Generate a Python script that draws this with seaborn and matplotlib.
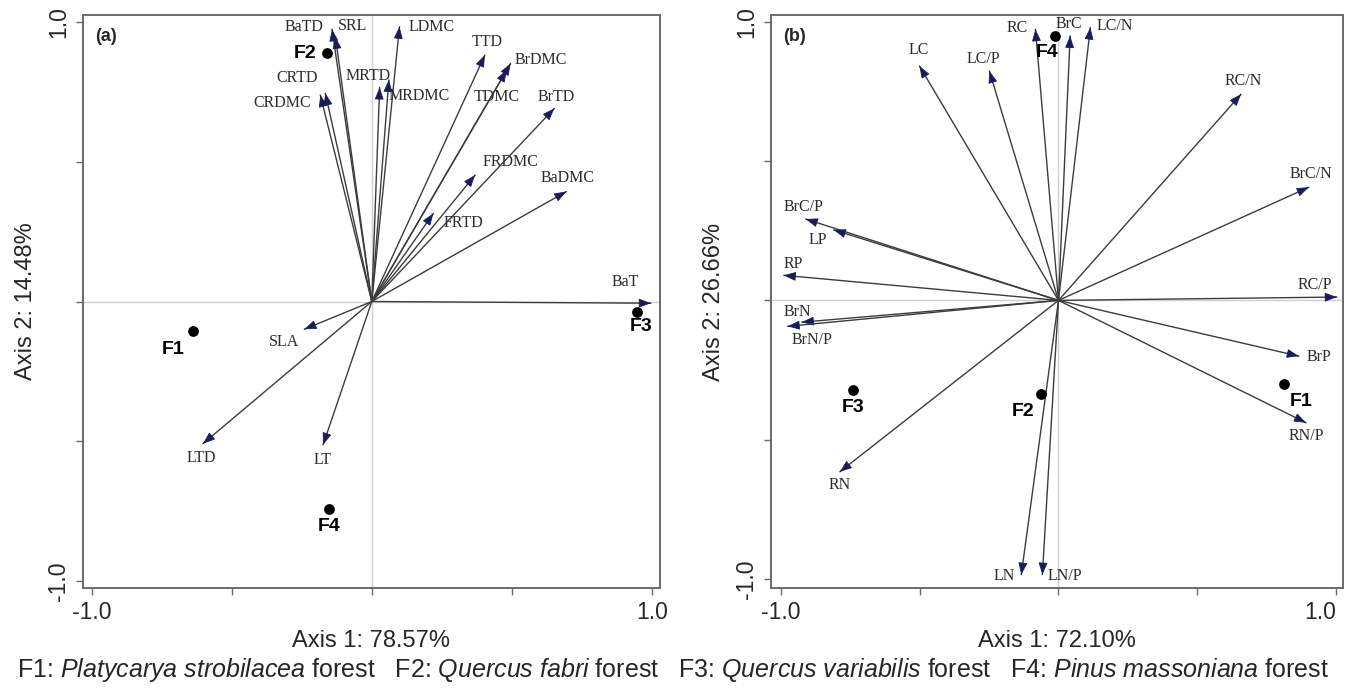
import numpy as np
import pandas as pd
import seaborn as sns
import matplotlib.pyplot as plt

# ---- panel (a): plant traits vs. axes 1/2 ----
traits_a = ['BaTD', 'SRL', 'LDMC', 'TTD', 'BrDMC', 'TDMC', 'BrTD', 'MRTD', 'MRDMC',
            'CRTD', 'CRDMC', 'FRDMC', 'BaDMC', 'FRTD', 'BaT', 'SLA', 'LTD', 'LT']
axis1_a = [-0.142, -0.130, 0.099, 0.404, 0.496, 0.482, 0.652, 0.061, 0.028,
           -0.166, -0.184, 0.369, 0.695, 0.220, 0.997, -0.241, -0.603, -0.174]
axis2_a = [0.973, 0.946, 0.982, 0.881, 0.851, 0.827, 0.690, 0.792, 0.765,
           0.744, 0.738, 0.452, 0.393, 0.315, -0.006, -0.099, -0.508, -0.512]
sites = ['F1', 'F2', 'F3', 'F4']
site1_a = [-0.638, -0.160, 0.948, -0.153]
site2_a = [-0.107, 0.887, -0.039, -0.740]

# ---- panel (b): stoichiometry vs. axes 1/2 ----
traits_b = ['RC', 'BrC', 'LC/N', 'LC', 'LC/P', 'RC/N', 'BrC/N', 'BrC/P', 'LP', 'RP',
            'RC/P', 'BrN', 'BrN/P', 'BrP', 'RN/P', 'RN', 'LN', 'LN/P']
axis1_b = [-0.083, 0.042, 0.115, -0.501, -0.249, 0.658, 0.902, -0.911, -0.810, -0.990,
           1.003, -0.925, -0.976, 0.866, 0.892, -0.788, -0.134, -0.058]
axis2_b = [0.973, 0.949, 0.979, 0.841, 0.823, 0.740, 0.406, 0.292, 0.253, 0.090,
           0.012, -0.078, -0.093, -0.200, -0.439, -0.615, -0.984, -0.984]
site1_b = [0.813, -0.062, -0.741, -0.014]
site2_b = [-0.301, -0.337, -0.320, 0.949]

var_a = ('Axis 1: 78.57%', 'Axis 2: 14.48%')
var_b = ('Axis 1: 72.10%', 'Axis 2: 26.66%')
species = ['Platycarya strobilacea', 'Quercus fabri', 'Quercus variabilis', 'Pinus massoniana']

# label offsets from arrow tips / points (layout only)
off_a = {'BaTD': (-0.10, 0.007), 'SRL': (0.06, 0.039), 'LDMC': (0.114, 0.0), 'TTD': (0.007, 0.048),
         'BrDMC': (0.107, 0.012), 'TDMC': (-0.035, -0.095), 'BrTD': (0.008, 0.042),
         'MRTD': (-0.075, 0.014), 'MRDMC': (0.142, -0.029), 'CRTD': (-0.099, 0.054),
         'CRDMC': (-0.135, -0.030), 'FRDMC': (0.127, 0.048), 'BaDMC': (0.004, 0.047),
         'FRTD': (0.106, -0.035), 'BaT': (-0.093, 0.077), 'SLA': (-0.071, -0.044),
         'LTD': (-0.007, -0.052), 'LT': (-0.003, -0.053)}
soff_a = {'F1': (-0.071, -0.063), 'F2': (-0.077, 0.0), 'F3': (0.014, -0.050), 'F4': (0.0, -0.064)}
off_b = {'RC': (-0.065, 0.003), 'BrC': (-0.003, 0.041), 'LC/N': (0.089, 0.005), 'LC': (-0.004, 0.056),
         'LC/P': (-0.022, 0.042), 'RC/N': (0.007, 0.048), 'BrC/N': (0.007, 0.047),
         'BrC/P': (-0.007, 0.042), 'LP': (-0.058, -0.038), 'RP': (0.036, 0.042),
         'RC/P': (-0.079, 0.042), 'BrN': (-0.015, 0.036), 'BrN/P': (0.087, -0.050),
         'BrP': (0.072, -0.003), 'RN/P': (0.003, -0.048), 'RN': (0.0, -0.047),
         'LN': (-0.062, -0.006), 'LN/P': (0.082, -0.006)}
soff_b = {'F1': (0.060, -0.063), 'F2': (-0.065, -0.063), 'F3': (0.0, -0.064), 'F4': (-0.026, -0.060)}

sns.set_style('ticks')
plt.rcParams['font.family'] = ['Liberation Sans', 'DejaVu Sans']
plt.rcParams['mathtext.fontset'] = 'custom'
plt.rcParams['mathtext.rm'] = 'Liberation Sans'
plt.rcParams['mathtext.it'] = 'Liberation Sans:italic'

shaft_col = '#3c3c3c'
head_col = '#1b1b5c'
spine_col = '#6a6a6a'

fig = plt.figure(figsize=(13.46, 6.88), dpi=100)
axA = fig.add_axes([0.0614, 0.1453, 0.4286, 0.8329])
axB = fig.add_axes([0.5726, 0.1453, 0.4249, 0.8329])


def draw_panel(ax, tag, traits, a1, a2, s1, s2, off, soff, labels, xlim, ylim):
    ax.axhline(0, color='#cfcfcf', lw=1, zorder=0)
    ax.axvline(0, color='#cfcfcf', lw=1, zorder=0)
    for name, x, y in zip(traits, a1, a2):
        ax.annotate('', xy=(x, y), xytext=(0, 0),
                    arrowprops=dict(arrowstyle='-', color=shaft_col, lw=1.0,
                                    shrinkA=0, shrinkB=0))
        d = np.array([x, y]) / np.hypot(x, y)
        ax.annotate('', xy=(x, y), xytext=(x - 0.002 * d[0], y - 0.002 * d[1]),
                    arrowprops=dict(arrowstyle='-|>,head_length=0.75,head_width=0.28',
                                    mutation_scale=10, color=head_col, lw=0.6,
                                    shrinkA=0, shrinkB=0))
        dx, dy = off[name]
        ax.text(x + dx, y + dy, name, ha='center', va='center', fontsize=11.5,
                family=['Liberation Serif', 'DejaVu Serif'], color='#2b2b2b')
    df = pd.DataFrame({'site': sites, 'x': s1, 'y': s2})
    sns.scatterplot(data=df, x='x', y='y', ax=ax, color='black', s=60,
                    edgecolor='black', linewidth=0, zorder=5, legend=False)
    for nm, x, y in zip(sites, s1, s2):
        dx, dy = soff[nm]
        ax.text(x + dx, y + dy, nm, ha='center', va='center', fontsize=14,
                fontweight='bold', color='black')
    ax.text(0.022, 0.962, tag, transform=ax.transAxes, ha='left', va='center',
            fontsize=13, fontweight='bold')
    ax.set_xlim(*xlim)
    ax.set_ylim(*ylim)
    ticks = [-1, -0.5, 0, 0.5, 1]
    ax.set_xticks(ticks)
    ax.set_xticklabels(['-1.0', '', '', '', '1.0'])
    ax.set_yticks(ticks)
    ax.set_yticklabels(['-1.0', '', '', '', '1.0'], rotation=90, va='center')
    ax.tick_params(direction='out', length=5, width=1, color=spine_col,
                   labelsize=16.5, pad=4)
    ax.set_xlabel(labels[0], fontsize=17, labelpad=5)
    ax.set_ylabel(labels[1], fontsize=17, labelpad=7)
    for sp in ax.spines.values():
        sp.set_color(spine_col)
        sp.set_linewidth(1.4)


draw_panel(axA, '(a)', traits_a, axis1_a, axis2_a, site1_a, site2_a, off_a, soff_a,
           var_a, (-1.033, 1.028), (-1.024, 1.024))
draw_panel(axB, '(b)', traits_b, axis1_b, axis2_b, site1_b, site2_b, off_b, soff_b,
           var_b, (-1.037, 1.024), (-1.032, 1.024))
# keep the right-hand "1.0" of panel (b) inside the figure
axB.get_xticklabels()[-1].set_horizontalalignment('right')

parts = []
for s, sp_name in zip(sites, species):
    it = sp_name.replace(' ', r'\ ')
    parts.append(s + ': $\\it{' + it + '}$ forest')
fig.text(0.5, 0.026, '   '.join(parts), ha='center', va='center', fontsize=18)

fig.savefig('out.png', dpi=100)
